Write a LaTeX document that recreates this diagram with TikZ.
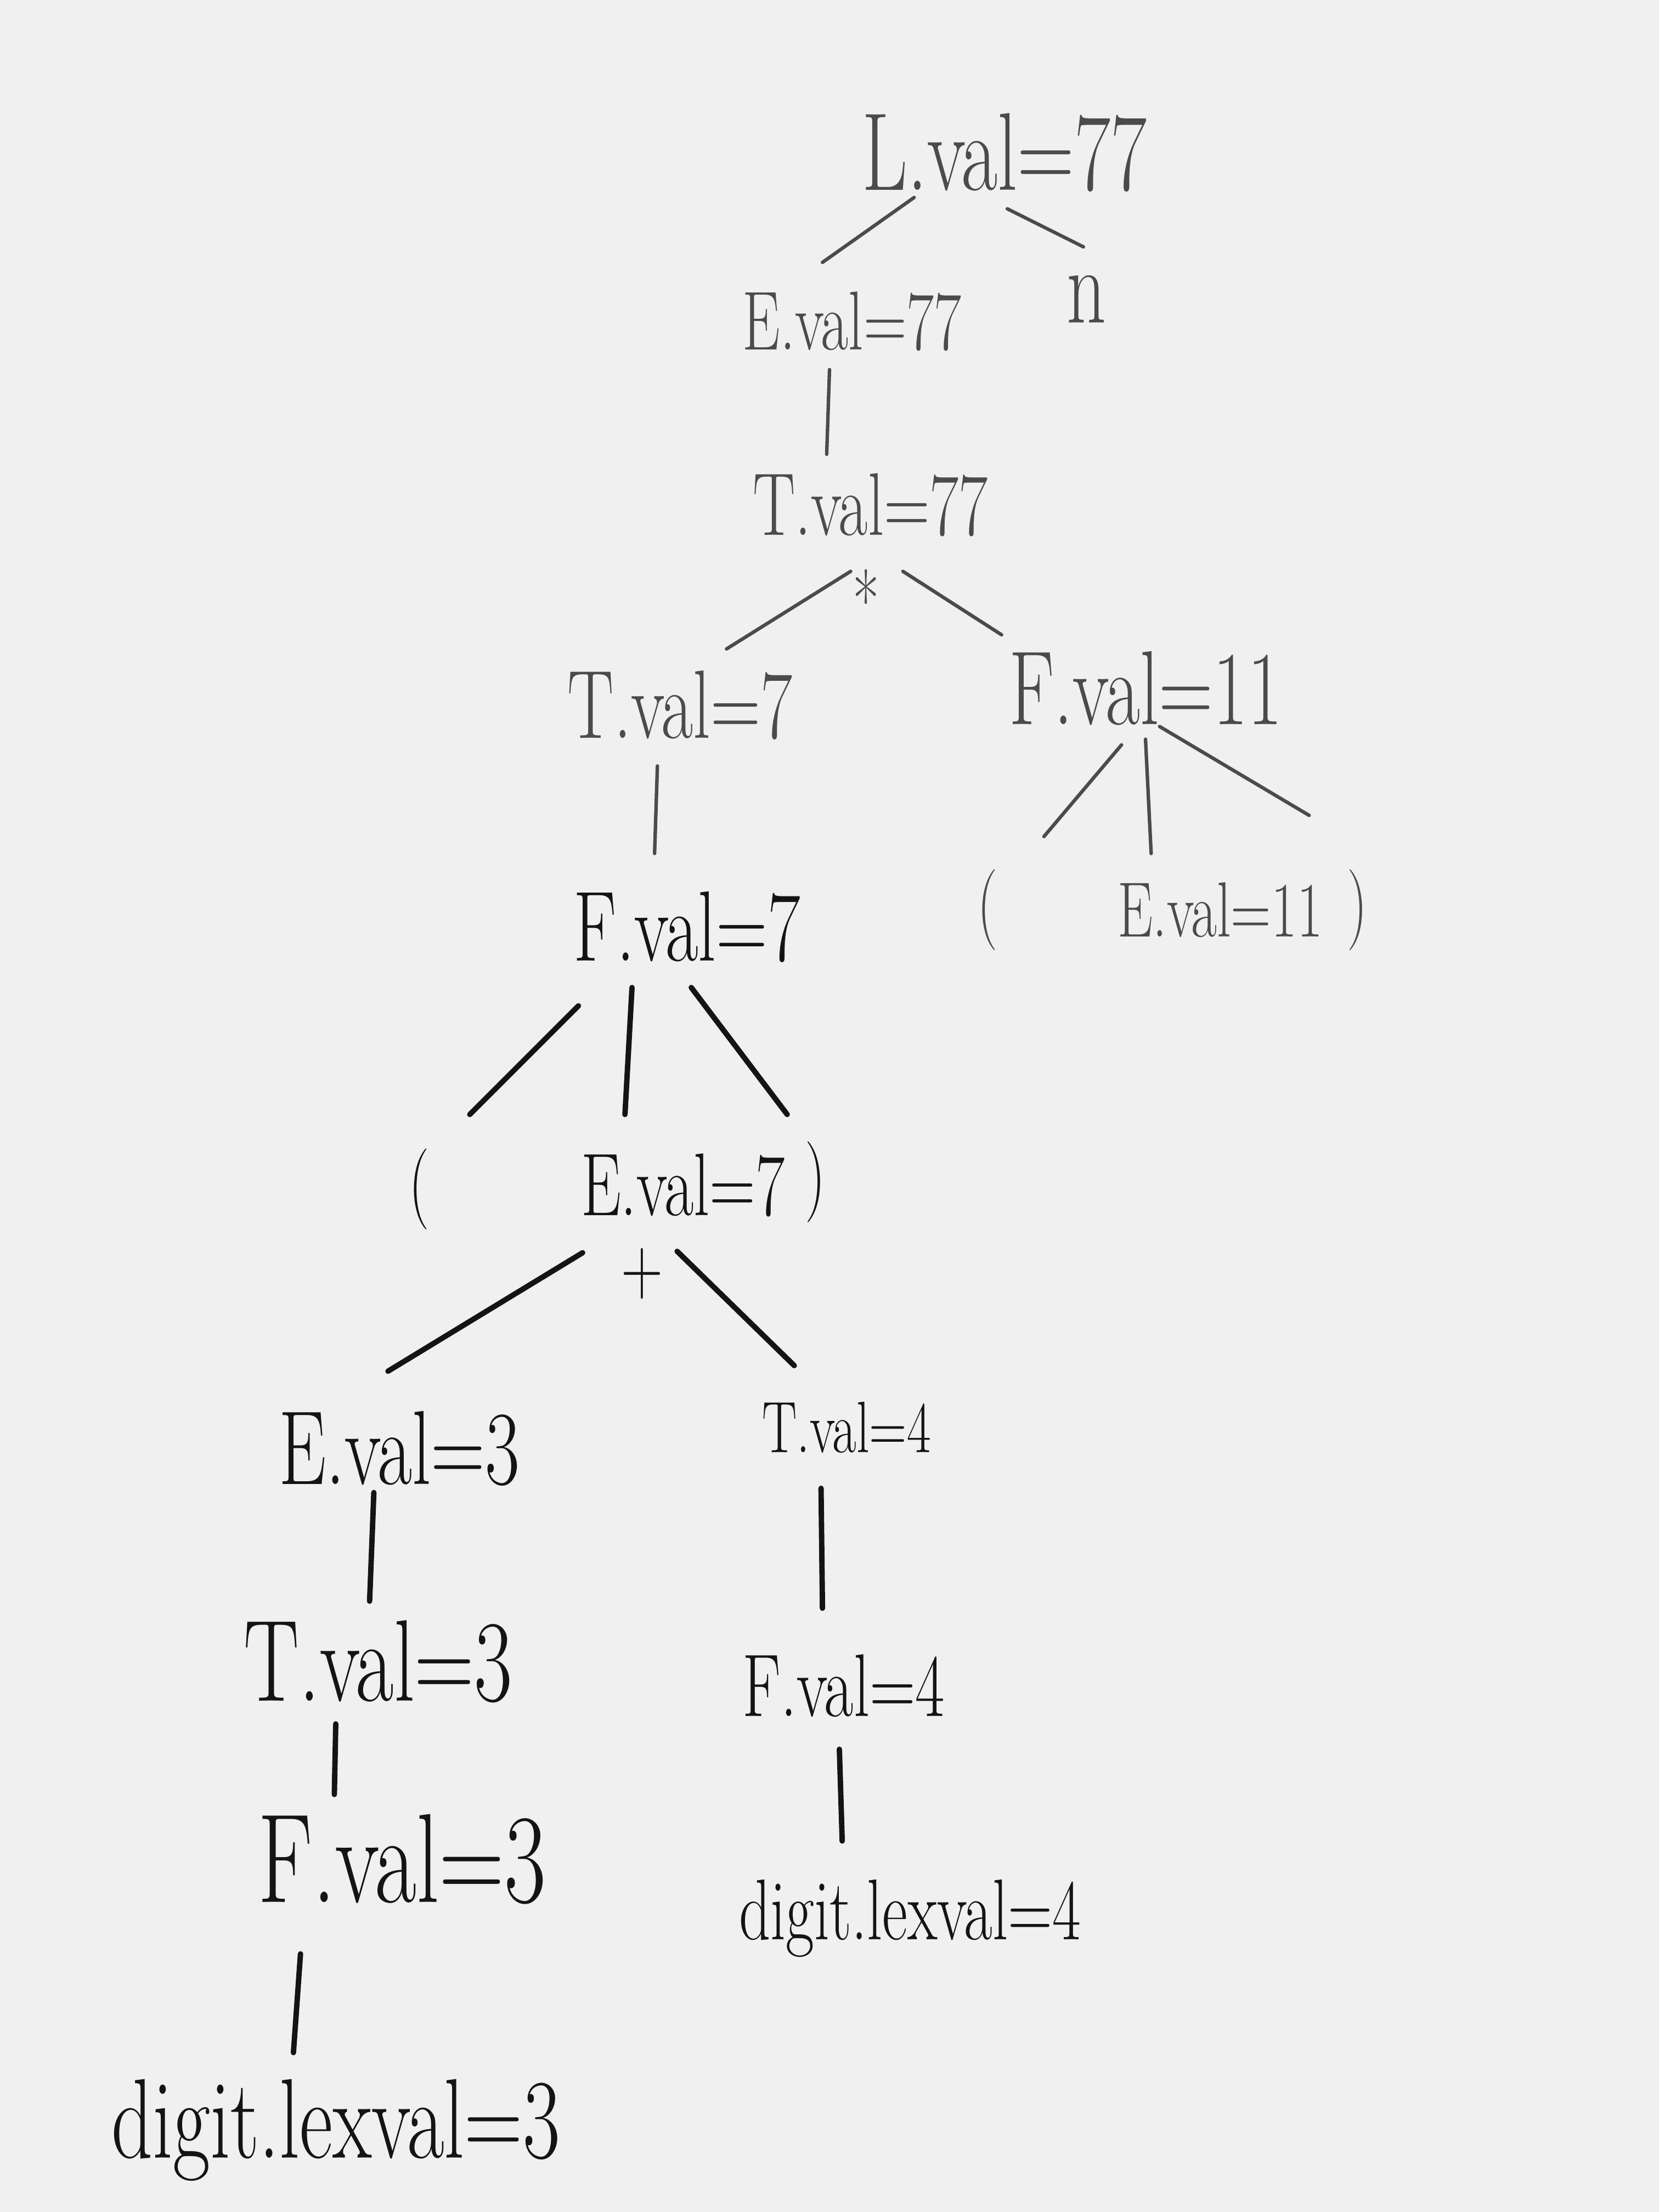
\documentclass[tikz,border=0pt]{standalone}
\usepackage{graphicx}
\usetikzlibrary{calc}
\newcommand\hwt[1]{\scalebox{1}[1.4]{#1}}
\definecolor{paper}{RGB}{240,240,240}
\definecolor{inklight}{RGB}{75,75,75}
\definecolor{inkdark}{RGB}{20,20,20}
\begin{document}
\begin{tikzpicture}[x=0.025714cm,y=-0.025714cm,
  lbl/.style={inner sep=0pt,font=\fontsize{#1}{#1}\selectfont},
  up/.style={text=inklight},
  dn/.style={text=inkdark},
  eu/.style={draw=inklight,line width=1.8pt,line cap=round},
  ed/.style={draw=inkdark,line width=2.8pt,line cap=round}]
\fill[paper] (0,0) rectangle (1176,1568);
\useasboundingbox (0,0) rectangle (1176,1568);

% upper part
\node[lbl=41,up] (L)   at (712,108) {\hwt{L.val=77}};
\node[lbl=31,up] (E1)  at (604,228) {\hwt{E.val=77}};
\node[lbl=40,up] (n)   at (770,212) {\hwt{n}};
\node[lbl=33,up] (T1)  at (617,358) {\hwt{T.val=77}};
\node[lbl=30,up] (star) at (614,425) {\hwt{*}};
\node[lbl=36,up] (Ta)  at (482,500) {\hwt{T.val=7}};
\node[lbl=39,up] (Fa)  at (812,488) {\hwt{F.val=11}};
\node[lbl=30,up] (lpA) at (700,645) {\hwt{(}};
\node[lbl=29,up] (Eb)  at (865,645) {\hwt{E.val=11}};
\node[lbl=30,up] (rpA) at (962,645) {\hwt{)}};

% lower part
\node[lbl=37,dn] (Fb)  at (487,657) {\hwt{F.val=7}};
\node[lbl=30,dn] (lpB) at (297,843) {\hwt{(}};
\node[lbl=33,dn] (Ec)  at (484,840) {\hwt{E.val=7}};
\node[lbl=30,dn] (rpB) at (578,838) {\hwt{)}};
\node[lbl=30,dn] (plus) at (455,903) {\hwt{+}};
\node[lbl=39,dn] (Ed)  at (283,1027) {\hwt{E.val=3}};
\node[lbl=27,dn] (Te)  at (600,1012) {\hwt{T.val=4}};
\node[lbl=43,dn] (Tf)  at (268,1178) {\hwt{T.val=3}};
\node[lbl=33,dn] (Fg)  at (598,1195) {\hwt{F.val=4}};
\node[lbl=47,dn] (Fh)  at (285,1318) {\hwt{F.val=3}};
\node[lbl=32,dn] (Dg)  at (645,1360) {\hwt{digit.lexval=4}};
\node[lbl=42,dn] (Dh)  at (238,1510) {\hwt{digit.lexval=3}};

% connectors
\draw[eu] ($(L)+(-64,32)$) -- ($(E1)+(-21,-42)$);
\draw[eu] ($(L)+(2,40)$) -- ($(n)+(-2,-37)$);
\draw[eu] ($(E1)+(-16,34)$) -- ($(T1)+(-31,-36)$);
\draw[eu] ($(T1)+(-14,47)$) -- ($(Ta)+(33,-40)$);
\draw[eu] ($(T1)+(23,47)$) -- ($(Fa)+(-102,-38)$);
\draw[eu] ($(Ta)+(-16,43)$) -- ($(Fb)+(-23,-52)$);
\draw[eu] ($(Fa)+(-17,40)$) -- ($(lpA)+(40,-52)$);
\draw[eu] ($(Fa)+(0,36)$) -- ($(Eb)+(-49,-40)$);
\draw[eu] ($(Fa)+(10,27)$) -- ($(rpA)+(-34,-67)$);
\draw[ed] ($(Fb)+(-77,56)$) -- ($(lpB)+(36,-53)$);
\draw[ed] ($(Fb)+(-39,43)$) -- ($(Ec)+(-41,-50)$);
\draw[ed] ($(Fb)+(3,43)$) -- ($(rpB)+(-20,-48)$);
\draw[ed] ($(Ec)+(-71,48)$) -- ($(Ed)+(-8,-55)$);
\draw[ed] ($(Ec)+(-4,47)$) -- ($(Te)+(-37,-44)$);
\draw[ed] ($(Ed)+(-18,31)$) -- ($(Tf)+(-6,-43)$);
\draw[ed] ($(Te)+(-18,43)$) -- ($(Fg)+(-15,-55)$);
\draw[ed] ($(Tf)+(-30,44)$) -- ($(Fh)+(-48,-46)$);
\draw[ed] ($(Fg)+(-3,45)$) -- ($(Dg)+(-48,-55)$);
\draw[ed] ($(Fh)+(-72,67)$) -- ($(Dh)+(-30,-55)$);
\end{tikzpicture}
\end{document}
